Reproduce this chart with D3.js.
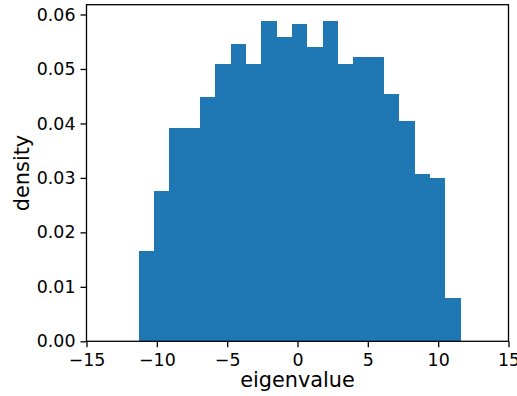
<!DOCTYPE html>
<html><head><meta charset="utf-8">
<script src="https://cdn.jsdelivr.net/npm/d3@7"></script>
<style>body{margin:0;background:#fff}svg{display:block}text{font-family:"DejaVu Sans",sans-serif;fill:#000}</style>
</head><body>
<script>
const binEdges = [-11.28,-10.19,-9.10,-8.01,-6.92,-5.83,-4.74,-3.65,-2.56,-1.47,-0.38,0.71,1.80,2.89,3.98,5.07,6.15,7.24,8.33,9.42,10.51,11.60];
const densities = [0.0166,0.0276,0.0392,0.0392,0.0449,0.0510,0.0546,0.0510,0.0588,0.0559,0.0583,0.0541,0.0588,0.0510,0.0522,0.0522,0.0454,0.0405,0.0307,0.0300,0.0080];
const xTicks = [-15,-10,-5,0,5,10,15];
const yTicks = [0,0.01,0.02,0.03,0.04,0.05,0.06];
const xLabel = "eigenvalue", yLabel = "density";

const W=517,H=396;
const m={l:86.5,r:8.5,t:4.7,b:54.7};
const svg=d3.select("body").append("svg").attr("width",W).attr("height",H);
const x=d3.scaleLinear().domain([-15,15]).range([m.l,W-m.r]);
const y=d3.scaleLinear().domain([0,0.0618]).range([H-m.b,m.t]);
const bins=densities.map((v,i)=>({x0:binEdges[i],x1:binEdges[i+1],v}));
svg.append("g").selectAll("rect").data(bins).join("rect")
 .attr("x",d=>x(d.x0)).attr("width",d=>x(d.x1)-x(d.x0))
 .attr("y",d=>y(d.v)).attr("height",d=>y(0)-y(d.v))
 .attr("fill","#1f77b4").attr("shape-rendering","crispEdges");
const fmtX=d=>d<0?"\u2212"+Math.abs(d):String(d);
const gx=svg.append("g").attr("transform",`translate(0,${H-m.b})`)
 .call(d3.axisBottom(x).tickValues(xTicks).tickFormat(fmtX).tickSize(6).tickPadding(5));
const gy=svg.append("g").attr("transform",`translate(${m.l},0)`)
 .call(d3.axisLeft(y).tickValues(yTicks).tickFormat(d3.format(".2f")).tickSize(6).tickPadding(5));
[gx,gy].forEach(g=>{g.attr("font-size",null).attr("font-family",null);
 g.selectAll("text").style("font-size","17.4px");
 g.selectAll("line").attr("stroke-width",1.3);g.select(".domain").remove();});
gx.selectAll("text").attr("dy","0.78em");
svg.append("rect").attr("x",m.l).attr("y",m.t).attr("width",W-m.r-m.l).attr("height",H-m.b-m.t)
 .attr("fill","none").attr("stroke","#000").attr("stroke-width",1.3);
svg.append("text").attr("x",(m.l+W-m.r)/2).attr("y",387).attr("text-anchor","middle").style("font-size","20.8px").text(xLabel);
svg.append("text").attr("transform",`translate(29,${(m.t+H-m.b)/2}) rotate(-90)`).attr("text-anchor","middle").style("font-size","20.8px").text(yLabel);
</script>
</body></html>
